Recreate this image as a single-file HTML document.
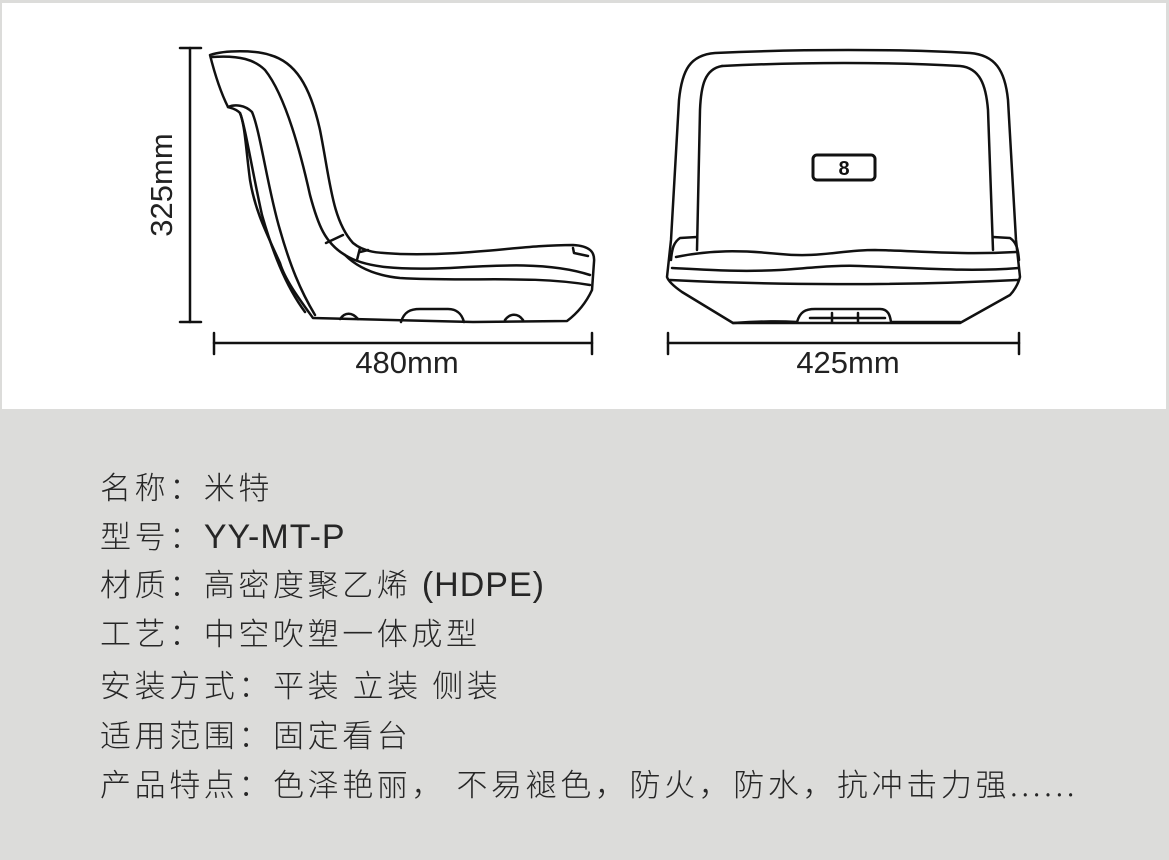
<!DOCTYPE html>
<html><head><meta charset="utf-8"><style>
html,body{margin:0;padding:0;}
body{width:1169px;height:860px;background:#dcdcda;position:relative;overflow:hidden;font-family:"Liberation Sans","Noto Sans CJK SC",sans-serif;}
#top{position:absolute;left:2px;top:3px;width:1164px;height:406px;background:#fff;}
svg{position:absolute;left:0;top:0;}
.t{position:absolute;left:100px;font-size:31px;color:#262626;letter-spacing:3.6px;white-space:nowrap;font-family:"Noto Sans CJK SC","Liberation Sans",sans-serif;font-weight:300;line-height:40px;}
.l{font-family:"Liberation Sans",sans-serif;font-size:34px;letter-spacing:1px;}
</style></head><body>
<div id="top"></div>
<svg width="1169" height="410" viewBox="0 0 1169 410" fill="none" stroke="#111" stroke-linecap="round" stroke-linejoin="round">
<g stroke-width="2.5">
<line x1="190" y1="48" x2="190" y2="322"/><line x1="180" y1="48" x2="201" y2="48"/><line x1="180" y1="322" x2="201" y2="322"/>
<line x1="214" y1="343" x2="592" y2="343"/><line x1="214" y1="333" x2="214" y2="354"/><line x1="592" y1="333" x2="592" y2="354"/>
<line x1="668" y1="343" x2="1019" y2="343"/><line x1="668" y1="333" x2="668" y2="354"/><line x1="1019" y1="333" x2="1019" y2="354"/>
</g>
<g fill="#222" stroke="none" font-family="Liberation Sans, sans-serif" font-size="31">
<text x="407" y="373" text-anchor="middle">480mm</text>
<text x="848" y="373" text-anchor="middle">425mm</text>
<text transform="translate(172,185) rotate(-90)" text-anchor="middle">325mm</text>
</g>
<!-- side view -->
<g stroke-width="2.5">
<path d="M210,55 C225,50 255,50 270,55 C295,62 310,85 320,130 C330,180 332,220 353,243 C365,253 380,253 400,254 C470,256 520,245 573,245 C590,246 595,252 594,262 L592,290 C585,305 575,315 567,321 L473,322 L313,318 C300,300 285,280 280,263 C265,230 255,210 250,180 C246,150 245,125 240,113 C235,108 230,108 228,107 C222,95 215,75 210,55 Z"/>
<path d="M212,57 C240,55 255,60 265,70 C285,95 300,150 310,195 C318,225 325,243 345,255 C365,268 400,270 450,268 C500,265 550,262 590,275"/>
<path d="M228,107 C235,104 245,105 252,112 C260,130 268,190 280,230 C290,265 300,290 315,315"/>
<path d="M240,113 C245,125 252,170 262,215 C272,250 285,285 305,312"/>
<path d="M345,255 C360,270 380,276 400,278 C470,282 530,275 590,285"/>
<path d="M326,243 L343,235 M357,260 L360,248 M360,252 L368,250"/>
<path d="M401,322 C404,312 410,309 420,309 L448,309 C458,309 462,315 464,322"/>
<path d="M340,319 C345,312 352,312 358,319 M505,320 C510,313 518,313 523,320"/>
<path d="M573,248 L574,253 L588,256"/>
</g>
<!-- front view -->
<g stroke-width="2.5">
<path d="M715,53 C800,49 900,49 970,53 C995,55 1005,70 1008,100 L1016,240 L1020,277 C1018,285 1013,292 1010,295 L960,323 L733,323 L682,292 C672,285 668,280 667,277 L671,240 L679,100 C682,70 690,55 715,53 Z"/>
<path d="M722,66 C800,62 890,62 960,66 C980,68 986,85 988,110 L993,250"/>
<path d="M722,66 C705,69 701,85 700,110 L697,250"/>
<path d="M697,237 L680,238 C674,242 672,248 671,260 M993,237 L1010,238 C1016,242 1018,248 1019,260"/>
<path d="M676,257 C710,250 740,250 780,254 C820,258 840,250 875,250 C920,251 960,255 1016,252"/>
<path d="M672,268 C710,270 740,272 780,270 C810,268 835,265 860,266 C920,268 970,272 1018,268"/>
<path d="M670,280 C770,285 900,286 1018,280"/>
<path d="M733,323 C765,321 780,321 797,322 C800,312 805,309 815,309 L880,309 C888,309 890,315 891,322 C910,322 940,322 960,322"/>
<path d="M810,318 L885,318 M832,313 L832,322 M858,313 L858,322"/>
<rect x="813" y="155" width="62" height="25" rx="4" stroke-width="3"/>
</g>
<text x="844" y="175" text-anchor="middle" fill="#111" stroke="none" font-family="Liberation Sans, sans-serif" font-weight="bold" font-size="20">8</text>
</svg>
<div class="t" style="top:466px">名称：米特</div>
<div class="t" style="top:515px">型号：<span class="l">YY-MT-P</span></div>
<div class="t" style="top:563px">材质：高密度聚乙烯<span class="l"> (HDPE)</span></div>
<div class="t" style="top:612px">工艺：中空吹塑一体成型</div>
<div class="t" style="top:664px">安装方式：平装 立装 侧装</div>
<div class="t" style="top:714px">适用范围：固定看台</div>
<div class="t" style="top:763px">产品特点：色泽艳丽， 不易褪色，防火，防水，抗冲击力强......</div>
</body></html>
